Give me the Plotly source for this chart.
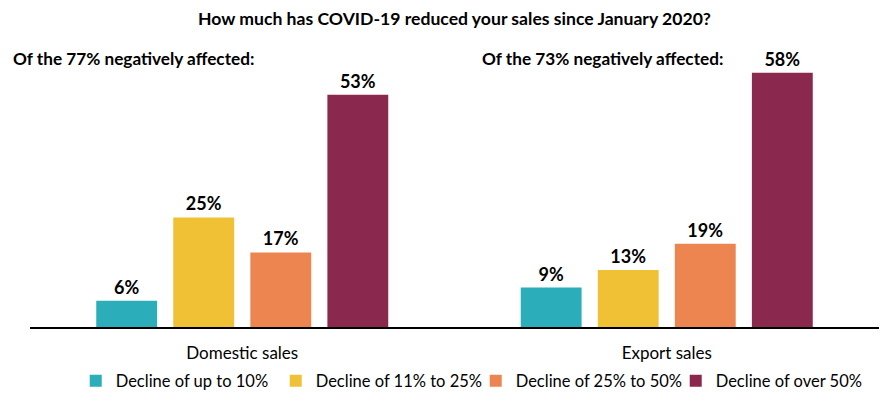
import plotly.graph_objects as go

categories = ["Domestic sales", "Export sales"]
series_names = ["Decline of up to 10%", "Decline of 11% to 25%", "Decline of 25% to 50%", "Decline of over 50%"]
series_values = [
    [6, 9],
    [25, 13],
    [17, 19],
    [53, 58],
]
colors = ["#2CAEBA", "#F0C135", "#ED8550", "#8B284E"]
title_text = "How much has COVID-19 reduced your sales since January 2020?"
notes = ["Of the 77% negatively affected:", "Of the 73% negatively affected:"]

FONT = "Lato"

fig = go.Figure()
for name, vals, col in zip(series_names, series_values, colors):
    fig.add_trace(go.Bar(
        x=categories, y=vals, name=name,
        marker=dict(color=col, line=dict(width=0)),
        text=[f"<b>{v}%</b>" for v in vals],
        textposition="outside",
        textfont=dict(family=FONT, size=18, color="#000000"),
        cliponaxis=False,
    ))

fig.update_layout(
    width=890, height=399,
    margin=dict(l=30, r=11, t=64, b=72, autoexpand=False),
    paper_bgcolor="white", plot_bgcolor="white",
    barmode="group", bargap=0.274, bargroupgap=0.21,
    font=dict(family=FONT, size=17, color="#000000"),
    showlegend=True,
    legend=dict(orientation="h", x=0.525, xanchor="center", yref="container", y=0.045, yanchor="middle",
                font=dict(family=FONT, size=16.5, color="#000000"),
                itemwidth=30, entrywidth=155, entrywidthmode="pixels", traceorder="normal"),
    xaxis=dict(showline=True, linecolor="#000000", linewidth=1.5,
               ticks="outside", ticklen=10, tickcolor="rgba(0,0,0,0)",
               tickfont=dict(family=FONT, size=17, color="#000000"), showgrid=False),
    yaxis=dict(range=[0, 60], visible=False, showgrid=False, zeroline=False),
    annotations=[
        dict(text=f"<b>{title_text}</b>", xref="paper", yref="paper", x=0.5, y=1, yshift=46,
             xanchor="center", yanchor="middle", showarrow=False,
             font=dict(family=FONT, size=17.6, color="#000000")),
        dict(text=f"<b>{notes[0]}</b>", xref="paper", yref="paper", x=-0.0225, y=1, yshift=6,
             xanchor="left", yanchor="middle", showarrow=False,
             font=dict(family=FONT, size=17.2, color="#000000")),
        dict(text=f"<b>{notes[1]}</b>", xref="paper", yref="paper", x=0.530, y=1, yshift=6,
             xanchor="left", yanchor="middle", showarrow=False,
             font=dict(family=FONT, size=17.2, color="#000000")),
    ],
)

fig.write_html("out.html", config={"displayModeBar": False},
               post_script="document.body.style.margin='0';document.body.style.padding='0';")
